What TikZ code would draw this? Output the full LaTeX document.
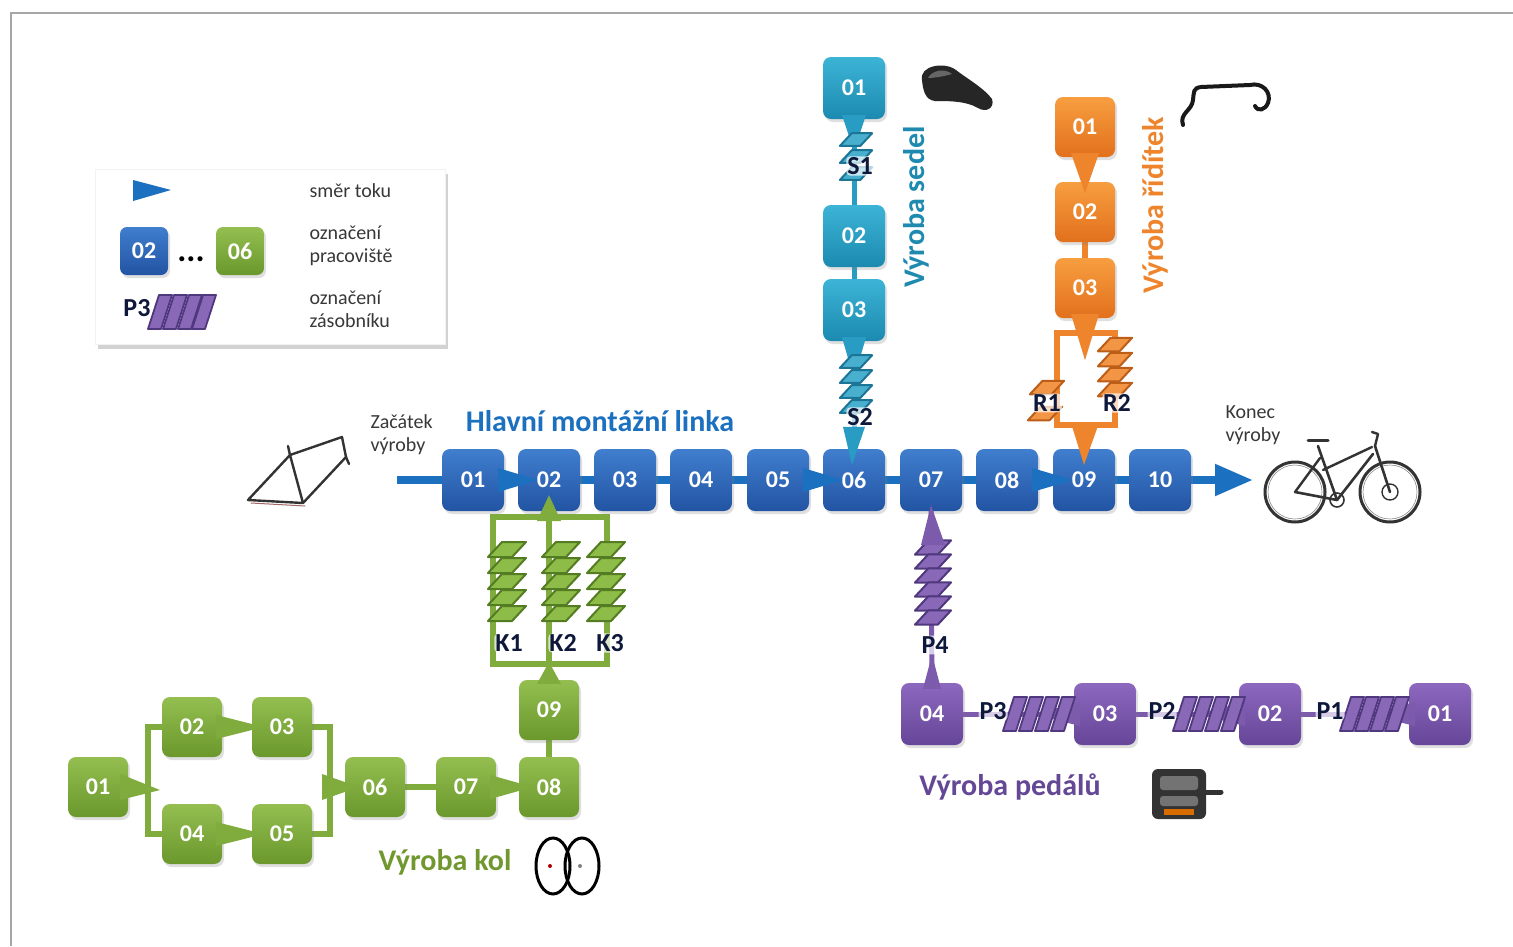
\documentclass[tikz,border=0pt]{standalone}
\usepackage{fontspec}
\setmainfont{Carlito}
\usetikzlibrary{calc,shadows,arrows.meta}
\pgfdeclarelayer{background}
\pgfsetlayers{background,main}

% station colours
\definecolor{bbtop}{RGB}{64,126,206}
\definecolor{bbbot}{RGB}{34,84,163}
\definecolor{mainblue}{RGB}{28,112,192}
\definecolor{ttop}{RGB}{60,180,214}
\definecolor{tbot}{RGB}{28,138,176}
\definecolor{sedel}{RGB}{40,156,194}
\definecolor{sedeltext}{RGB}{30,138,176}
\definecolor{otop}{RGB}{247,158,64}
\definecolor{obot}{RGB}{226,112,28}
\definecolor{oline}{RGB}{238,132,44}
\definecolor{gtop}{RGB}{148,190,80}
\definecolor{gbot}{RGB}{106,152,44}
\definecolor{gline}{RGB}{128,172,62}
\definecolor{gtext}{RGB}{112,152,46}
\definecolor{ptop}{RGB}{140,104,190}
\definecolor{pbot}{RGB}{102,70,152}
\definecolor{pline}{RGB}{124,90,172}
\definecolor{ptext}{RGB}{100,72,150}
\definecolor{labeldark}{RGB}{14,24,58}
% buffer sheet colours
\definecolor{gsf}{RGB}{142,188,72}
\definecolor{gsd}{RGB}{84,124,34}
\definecolor{tsf}{RGB}{72,176,206}
\definecolor{tsd}{RGB}{28,116,150}
\definecolor{osf}{RGB}{242,150,70}
\definecolor{osd}{RGB}{188,94,24}
\definecolor{psf}{RGB}{138,104,184}
\definecolor{psd}{RGB}{80,56,126}

\tikzset{
  box/.style={rounded corners=8pt, minimum width=62pt, minimum height=62pt, inner sep=0pt,
    text=white, font=\fontsize{24}{24}\selectfont\bfseries,
    drop shadow={opacity=0.25, shadow xshift=2pt, shadow yshift=-3pt}},
  bluebox/.style={box, top color=bbtop, bottom color=bbbot},
  tealbox/.style={box, top color=ttop, bottom color=tbot},
  orangebox/.style={box, minimum width=60pt, minimum height=60pt, top color=otop, bottom color=obot},
  greenbox/.style={box, minimum width=60pt, minimum height=60pt, top color=gtop, bottom color=gbot},
  purplebox/.style={box, top color=ptop, bottom color=pbot},
  stlabel/.style={font=\fontsize{26}{26}\selectfont\bfseries, text=labeldark, fill=white,
    fill opacity=0.7, text opacity=1, inner sep=1pt, rounded corners=4pt},
  grouptitle/.style={font=\fontsize{30}{30}\selectfont\bfseries},
  note/.style={font=\fontsize{20}{23}\selectfont, text=black!78, align=left},
  pics/vsheet/.style args={#1/#2}{code={
    \filldraw[line width=2pt, fill=#1, draw=#2, line join=round]
      (-19,7) -- (5,7) -- (19,-8) -- (-5,-8) -- cycle;}},
  pics/hsheet/.style args={#1/#2}{code={
    \filldraw[line width=1.8pt, fill=#1, draw=#2, line join=round]
      (-12,17) -- (1,17) -- (12,-17) -- (-1,-17) -- cycle;}},
}

\begin{document}
\begin{tikzpicture}[x=1pt,y=-1pt]
\useasboundingbox (0,0) rectangle (1513,946);
\begin{pgfonlayer}{background}
  \fill[white] (0,0) rectangle (1513,946);
  \draw[black!35, line width=2pt] (11,946) -- (11,13) -- (1513,13);
\end{pgfonlayer}

% ---------------- legend ----------------
\node[fill=white, draw=black!5, minimum width=350pt, minimum height=175pt,
  drop shadow={opacity=0.35, shadow xshift=3pt, shadow yshift=-4pt}] (legend) at (270,257) {};
\fill[mainblue] (133,180) -- (171,190) -- (133,201) -- cycle;
\node[bluebox, minimum width=48pt, minimum height=48pt, rounded corners=7pt] (lg02) at (144,251) {02};
\node[font=\fontsize{34}{34}\selectfont\bfseries, inner sep=0pt] (ldots) at (191,259) {...};
\node[greenbox, minimum width=48pt, minimum height=48pt, rounded corners=7pt] (lg06) at (240,251) {06};
\foreach \x in {160,175,190,204} \pic at (\x,312) {hsheet=psf/psd};
\node[stlabel] (lgP3) at (137,308) {P3};
\node[note, anchor=west] (lt1) at (306,191) {směr toku};
\node[note, anchor=west] (lt2) at (306,246) {označení\\pracoviště};
\node[note, anchor=west] (lt3) at (306,309) {označení\\zásobníku};

% ---------------- main assembly line ----------------
\foreach \n/\x in {01/473,02/549,03/625,04/701,05/778,06/854,07/931,08/1007,09/1084,10/1160}
  \node[bluebox] (m\n) at (\x,480) {\n};
\coordinate (mstart) at (397,480);
\coordinate (mend) at (1253,480);
\node[font=\fontsize{30}{30}\selectfont\bfseries, text=mainblue] (title) at (600,421) {Hlavní montážní linka};
\node[note, anchor=west] (start) at (367,435) {Začátek\\výroby};
\node[note, anchor=west] (finish) at (1222,425) {Konec\\výroby};

% ---------------- seat line ----------------
\node[tealbox] (s01) at (854,88) {01};
\node[tealbox] (s02) at (854,236) {02};
\node[tealbox] (s03) at (854,310) {03};
\node[grouptitle, text=sedeltext, rotate=90] (tsedel) at (916,207) {Výroba sedel};

% ---------------- handlebar line ----------------
\node[orangebox] (r01) at (1085,127) {01};
\node[orangebox] (r02) at (1085,212) {02};
\node[orangebox] (r03) at (1085,288) {03};
\coordinate (rA) at (1057,333);
\coordinate (rB) at (1115,425);
\coordinate (rtop) at (1085,333);
\coordinate (rbot) at (1085,425);
\node[grouptitle, text=oline, rotate=90] (tridit) at (1155,205) {Výroba řídítek};

% ---------------- wheel line ----------------
\node[greenbox] (g01) at (98,787) {01};
\node[greenbox] (g02) at (192,727) {02};
\node[greenbox] (g03) at (282,727) {03};
\node[greenbox] (g04) at (192,834) {04};
\node[greenbox] (g05) at (282,834) {05};
\node[greenbox] (g06) at (375,787) {06};
\node[greenbox] (g07) at (466,787) {07};
\node[greenbox] (g08) at (549,787) {08};
\node[greenbox] (g09) at (549,710) {09};
\coordinate (gL) at (148,787);
\coordinate (gR) at (330,787);
\coordinate (kA) at (493,517);
\coordinate (kB) at (607,664);
\coordinate (ktop) at (549,517);
\coordinate (kbot) at (549,664);
\node[grouptitle, text=gtext] (tkol) at (445,862) {Výroba kol};

% ---------------- pedal line ----------------
\node[purplebox] (p04) at (932,714) {04};
\node[purplebox] (p03) at (1105,714) {03};
\node[purplebox] (p02) at (1270,714) {02};
\node[purplebox] (p01) at (1440,714) {01};
\node[grouptitle, text=ptext] (tped) at (1010,787) {Výroba pedálů};

% ---------------- connectors ----------------
\begin{pgfonlayer}{background}
  \draw[mainblue, line width=8pt, -{Triangle[length=38pt,width=30pt]}] (mstart) -- (mend);
  \draw[sedel, line width=5pt] (s01) -- (m06);
  \draw[oline, line width=6pt] (r01) -- (rtop);
  \draw[oline, line width=6pt] (rA) rectangle (rB);
  \draw[oline, line width=6pt] (rbot) -- (m09);
  \draw[gline, line width=6pt] (kA) rectangle (kB);
  \draw[gline, line width=6pt] (ktop) -- (kbot);
  \draw[gline, line width=6pt] (ktop) -- (m02);
  \draw[gline, line width=6pt] (g08) -- (kbot);
  \draw[gline, line width=6pt] (g02) -| (gL) |- (g04);
  \draw[gline, line width=6pt] (g03) -| (gR) |- (g05);
  \draw[gline, line width=6pt] (g01) -- (gL);
  \draw[gline, line width=6pt] (gR) -- (g06) -- (g07) -- (g08);
  \draw[pline, line width=5pt] (p01) -- (p04);
  \draw[pline, line width=5pt] (p04) -- (m07);
\end{pgfonlayer}

% flow arrows on the main line
\fill[mainblue] ($(m01.east)+(-6,-12)$) -- ($(m02.west)+(20,0)$) -- ($(m01.east)+(-6,12)$) -- cycle;
\fill[mainblue] ($(m05.east)+(-6,-12)$) -- ($(m06.west)+(20,0)$) -- ($(m05.east)+(-6,12)$) -- cycle;
\fill[mainblue] ($(m08.east)+(-6,-12)$) -- ($(m09.west)+(20,0)$) -- ($(m08.east)+(-6,12)$) -- cycle;

% seat buffers S1, S2
\fill[sedel] ($(s01.south)+(-12,-4)$) -- ($(s01.south)+(12,-4)$) -- ($(s01.south)+(0,32)$) -- cycle;
\foreach \y in {140,157,174} \pic[scale=0.85] at (856,\y) {vsheet=tsf/tsd};
\node[stlabel] (S1) at (860,166) {S1};
\fill[sedel] ($(s03.south)+(-12,-4)$) -- ($(s03.south)+(12,-4)$) -- ($(s03.south)+(0,38)$) -- cycle;
\foreach \y in {362,377,392,407} \pic[scale=0.85] at (856,\y) {vsheet=tsf/tsd};
\node[stlabel] (S2) at (860,417) {S2};
\fill[sedel] ($(m06.north)+(-11,-22)$) -- ($(m06.north)+(11,-22)$) -- ($(m06.north)+(-2,16)$) -- cycle;

% handlebar buffers R1, R2
\fill[oline] ($(r01.south)+(-14,-4)$) -- ($(r01.south)+(14,-4)$) -- ($(r01.south)+(0,36)$) -- cycle;
\fill[oline] ($(r03.south)+(-14,-4)$) -- ($(r03.south)+(14,-4)$) -- ($(r03.south)+(0,42)$) -- cycle;
\foreach \y in {345,360,375,390} \pic[scale=0.9] at (1115,\y) {vsheet=osf/osd};
\pic[scale=0.9] at (1047,388) {vsheet=osf/osd};
\pic[scale=0.9] at (1045,414) {vsheet=osf/osd};
\node[stlabel] (R1) at (1047,403) {R1};
\node[stlabel] (R2) at (1117,403) {R2};
\fill[oline] ($(rbot)+(-14,-2)$) -- ($(rbot)+(14,-2)$) -- ($(m09.north)+(0,16)$) -- cycle;

% wheel buffers K1, K2, K3
\fill[gline] ($(ktop)+(-12,4)$) -- ($(ktop)+(12,4)$) -- ($(m02.south)+(0,-16)$) -- cycle;
\fill[gline] ($(g09.north)+(-12,4)$) -- ($(g09.north)+(12,4)$) -- ($(kbot)+(0,-2)$) -- cycle;
\foreach \x in {507,561,606}
  \foreach \y in {550,566,582,598,614} \pic at (\x,\y) {vsheet=gsf/gsd};
\node[stlabel] (K1) at (509,643) {K1};
\node[stlabel] (K2) at (563,643) {K2};
\node[stlabel] (K3) at (610,643) {K3};

% wheel line flow arrows
\fill[gline] ($(g01.east)+(-8,-13)$) -- ($(gL)+(12,3)$) -- ($(g01.east)+(-8,13)$) -- cycle;
\fill[gline] ($(g02.east)+(-6,-12)$) -- ($(g03.west)+(12,0)$) -- ($(g02.east)+(-6,12)$) -- cycle;
\fill[gline] ($(g04.east)+(-6,-12)$) -- ($(g05.west)+(12,0)$) -- ($(g04.east)+(-6,12)$) -- cycle;
\fill[gline] ($(gR)+(-8,-13)$) -- ($(g06.west)+(14,0)$) -- ($(gR)+(-8,13)$) -- cycle;
\fill[gline] ($(g07.east)+(-6,-12)$) -- ($(g08.west)+(14,0)$) -- ($(g07.east)+(-6,12)$) -- cycle;

% pedal buffers P1..P4
\fill[pline] ($(p01.west)+(6,-12)$) -- ($(p01.west)+(-42,0)$) -- ($(p01.west)+(6,12)$) -- cycle;
\fill[pline] ($(p02.west)+(6,-12)$) -- ($(p02.west)+(-42,0)$) -- ($(p02.west)+(6,12)$) -- cycle;
\fill[pline] ($(p03.west)+(6,-12)$) -- ($(p03.west)+(-40,0)$) -- ($(p03.west)+(6,12)$) -- cycle;
\foreach \x in {1015,1031,1047,1063} \pic at (\x,714) {hsheet=psf/psd};
\foreach \x in {1185,1201,1217,1233} \pic at (\x,714) {hsheet=psf/psd};
\foreach \x in {1352,1367,1382,1397} \pic at (\x,714) {hsheet=psf/psd};
\node[stlabel] (P3) at (993,711) {P3};
\node[stlabel] (P2) at (1162,711) {P2};
\node[stlabel] (P1) at (1330,711) {P1};
\foreach \y in {548,562,576,590,604,618} \pic[scale=0.95] at (933,\y) {vsheet=psf/psd};
\fill[pline] ($(p04.north)+(-9,6)$) -- ($(p04.north)+(9,6)$) -- ($(p04.north)+(0,-28)$) -- cycle;
\fill[pline] (921,545) -- (945,545) -- ($(m07.south)+(0,-6)$) -- cycle;
\node[stlabel] (P4) at (935,645) {P4};

% ---------------- pictograms ----------------
% bicycle frame
\begin{scope}[draw=black!80, line width=2.4pt, line cap=round, line join=round]
  \draw (248,500) -- (290,455) -- (303,503) -- cycle;
  \draw (290,455) -- (342,437) -- (346,457) -- (303,503);
  \draw (290,455) -- (288,446);
  \draw (346,457) -- (349,464);
  \draw[red!40!black!60, line width=1pt] (251,503) -- (305,506);
\end{scope}
% saddle
\fill[black!85] (922,80) .. controls (919,66) and (944,61) .. (956,70)
  .. controls (966,78) and (984,88) .. (992,99) .. controls (995,108) and (986,113) .. (978,108)
  .. controls (966,101) and (950,101) .. (935,101) .. controls (925,100) and (923,90) .. (922,80) -- cycle;
\fill[black!60] (928,78) .. controls (932,70) and (945,68) .. (952,74) .. controls (945,76) and (935,78) .. (928,78) -- cycle;
% handlebar
\draw[black!90, line width=4pt, line cap=round] (1183,125) .. controls (1179,113) and (1192,111) .. (1193,100)
  .. controls (1194,92) and (1193,88) .. (1201,87) -- (1250,85)
  .. controls (1262,82) and (1272,92) .. (1268,103) .. controls (1265,110) and (1258,112) .. (1255,106);
% finished bicycle
\begin{scope}[draw=black!80, line cap=round, line join=round]
  \draw[line width=3pt] (1295,492) circle[radius=30];
  \draw[line width=3pt] (1390,492) circle[radius=30];
  \draw[line width=0.6pt, black!45] (1295,492) circle[radius=27] (1390,492) circle[radius=27];
  \draw[line width=2.6pt] (1295,492) -- (1337,500) -- (1318,446);
  \draw[line width=2.4pt] (1295,492) -- (1320,458);
  \draw[line width=2.6pt] (1337,500) -- (1373,454);
  \draw[line width=2.4pt] (1323,470) -- (1372,447);
  \draw[line width=2.6pt] (1375,446) -- (1390,492);
  \draw[line width=2.4pt] (1375,446) -- (1378,434) -- (1372,432);
  \draw[line width=3pt] (1308,440) -- (1328,440);
  \draw[line width=1.6pt] (1337,500) circle[radius=7];
  \draw[line width=1.4pt] (1390,492) circle[radius=8];
\end{scope}
% pedal
\fill[black!80, rounded corners=6pt] (1152,769) rectangle (1206,819);
\fill[black!55, rounded corners=3pt] (1160,776) rectangle (1198,790);
\fill[black!55, rounded corners=3pt] (1160,796) rectangle (1198,806);
\fill[orange!85!black] (1164,809) rectangle (1194,815);
\draw[black!80, line width=5pt, line cap=round] (1206,792) -- (1221,792);
% wheels
\draw[black, line width=3pt] (553,866) ellipse[x radius=17, y radius=28];
\draw[black, line width=3pt] (582,866) ellipse[x radius=17, y radius=28];
\fill[red!70!black] (550,866) circle[radius=2];
\fill[black!50] (580,866) circle[radius=2];
\end{tikzpicture}
\end{document}
